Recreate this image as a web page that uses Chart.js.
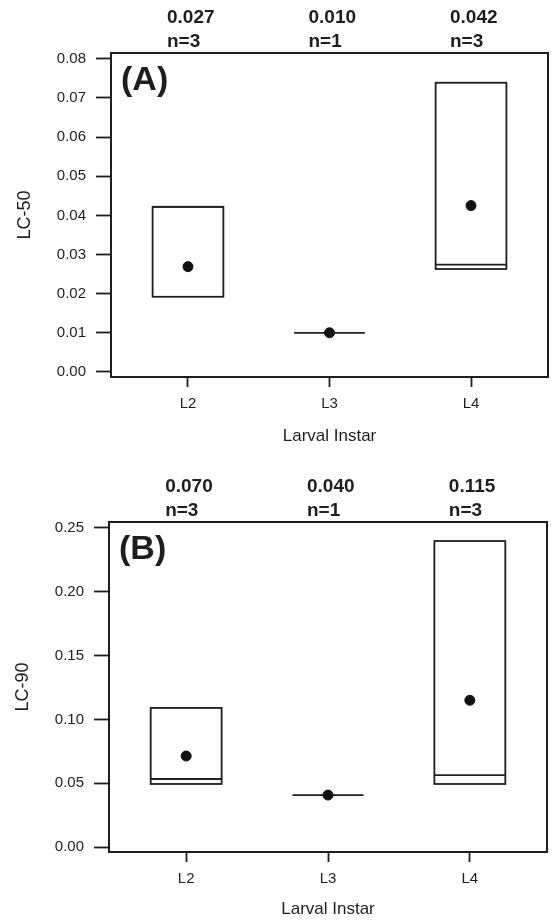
<!DOCTYPE html>
<html>
<head>
<meta charset="utf-8">
<script src="https://cdn.jsdelivr.net/npm/chart.js@4"></script>
<style>
  body { margin: 0; background: #fff; }
  canvas { position: absolute; left: 0; }
  #chartA { top: 0; }
  #chartB { top: 460px; }
</style>
</head>
<body>
<canvas id="chartA" width="554" height="460"></canvas>
<canvas id="chartB" width="554" height="461"></canvas>
<script>
// categories and values
const instars = ['L2', 'L3', 'L4'];
const sampleSizes = [3, 1, 3];

// LC-50 panel
const lc50Low = [0.0192, 0.0100, 0.0263];
const lc50Median = [0.0422, 0.0100, 0.0274];
const lc50High = [0.0422, 0.0100, 0.0739];
const lc50Mean = [0.0269, 0.0100, 0.0425];
const lc50MeanText = ['0.027', '0.010', '0.042'];
const lc50Ticks = [0, 0.01, 0.02, 0.03, 0.04, 0.05, 0.06, 0.07, 0.08];

// LC-90 panel
const lc90Low = [0.0494, 0.0407, 0.0494];
const lc90Median = [0.0533, 0.0407, 0.0564];
const lc90High = [0.1090, 0.0407, 0.2398];
const lc90Mean = [0.0713, 0.0407, 0.1150];
const lc90MeanText = ['0.070', '0.040', '0.115'];
const lc90Ticks = [0, 0.05, 0.10, 0.15, 0.20, 0.25];

const ink = '#1e1e1e';
const fontFamily = '"Liberation Sans", Arial, Helvetica, sans-serif';
const boxHalfWidth = 0.25;

// draws frame, boxes and the text above each panel
const boxPlugin = {
    id: 'boxPanel',
    beforeDatasetsDraw(chart, args, opts) {
        const { ctx, chartArea, scales } = chart;
        const x = scales.x, y = scales.y;
        ctx.save();
        ctx.strokeStyle = ink;
        ctx.lineWidth = 2;
        ctx.strokeRect(chartArea.left, chartArea.top, chartArea.right - chartArea.left, chartArea.bottom - chartArea.top);
        ctx.lineWidth = 1.8;
        opts.low.forEach((lo, i) => {
            const x0 = x.getPixelForValue(i - boxHalfWidth);
            const x1 = x.getPixelForValue(i + boxHalfWidth);
            const yLo = y.getPixelForValue(lo);
            const yHi = y.getPixelForValue(opts.high[i]);
            const yMed = y.getPixelForValue(opts.median[i]);
            if (opts.high[i] > lo) {
                ctx.strokeRect(x0, yHi, x1 - x0, yLo - yHi);
            }
            ctx.beginPath();
            ctx.moveTo(x0, yMed);
            ctx.lineTo(x1, yMed);
            ctx.stroke();
        });
        ctx.restore();
    },
    afterDraw(chart, args, opts) {
        const { ctx, chartArea, scales } = chart;
        ctx.save();
        ctx.fillStyle = ink;
        ctx.textBaseline = 'middle';
        ctx.textAlign = 'left';
        ctx.font = 'bold 19px ' + fontFamily;
        opts.meanText.forEach((t, i) => {
            const px = scales.x.getPixelForValue(i) - 21;
            ctx.fillText(t, px, chartArea.top - 35);
            ctx.fillText('n=' + sampleSizes[i], px, chartArea.top - 11);
        });
        ctx.font = 'bold 34px ' + fontFamily;
        ctx.fillText(opts.panel, chartArea.left + 10, chartArea.top + 28);
        ctx.restore();
    }
};

function makePanel(canvasId, p) {
    const ctx = document.getElementById(canvasId).getContext('2d');
    return new Chart(ctx, {
        type: 'scatter',
        data: {
            datasets: [{
                data: p.mean.map((v, i) => ({ x: i, y: v })),
                backgroundColor: '#111',
                borderColor: '#111',
                pointRadius: 5,
                pointHoverRadius: 5
            }]
        },
        options: {
            responsive: false,
            animation: false,
            events: [],
            layout: { padding: { top: p.padTop, right: p.padRight, left: 0, bottom: 0 } },
            plugins: {
                legend: { display: false },
                tooltip: { enabled: false },
                boxPanel: { low: p.low, median: p.median, high: p.high, meanText: p.meanText, panel: p.panel }
            },
            scales: {
                x: {
                    type: 'linear',
                    min: -0.544,
                    max: 2.544,
                    afterBuildTicks: s => { s.ticks = instars.map((c, i) => ({ value: i })); },
                    afterFit: s => { s.height = p.xHeight; },
                    border: { display: false },
                    grid: { drawOnChartArea: false, drawTicks: true, tickLength: 10, tickColor: ink, tickWidth: 1.8 },
                    ticks: {
                        padding: 8,
                        color: ink,
                        font: { family: fontFamily, size: 15 },
                        maxRotation: 0,
                        callback: v => instars[v]
                    },
                    title: {
                        display: true,
                        text: 'Larval Instar',
                        color: ink,
                        font: { family: fontFamily, size: 17 },
                        padding: { top: 0, bottom: p.xTitlePad }
                    }
                },
                y: {
                    type: 'linear',
                    min: p.yMin,
                    max: p.yMax,
                    afterBuildTicks: s => { s.ticks = p.ticks.map(v => ({ value: v })); },
                    afterFit: s => { s.width = p.yWidth; },
                    border: { display: false },
                    grid: { drawOnChartArea: false, drawTicks: true, tickLength: 15, tickColor: ink, tickWidth: 1.8 },
                    ticks: {
                        padding: 10,
                        color: ink,
                        font: { family: fontFamily, size: 15 },
                        callback: v => v.toFixed(2)
                    },
                    title: {
                        display: true,
                        text: p.yTitle,
                        color: ink,
                        font: { family: fontFamily, size: 18 },
                        padding: { top: p.yTitlePad, bottom: 0 }
                    }
                }
            }
        },
        plugins: [boxPlugin]
    });
}

makePanel('chartA', {
    panel: '(A)', yTitle: 'LC-50',
    low: lc50Low, median: lc50Median, high: lc50High, mean: lc50Mean, meanText: lc50MeanText,
    ticks: lc50Ticks, yMin: -0.0013, yMax: 0.0815,
    padTop: 53, padRight: 6, yWidth: 111, xHeight: 83, xTitlePad: 13, yTitlePad: 14
});

makePanel('chartB', {
    panel: '(B)', yTitle: 'LC-90',
    low: lc90Low, median: lc90Median, high: lc90High, mean: lc90Mean, meanText: lc90MeanText,
    ticks: lc90Ticks, yMin: -0.0039, yMax: 0.2547,
    padTop: 62, padRight: 7, yWidth: 109, xHeight: 69, xTitlePad: 1, yTitlePad: 12
});
</script>
</body>
</html>
